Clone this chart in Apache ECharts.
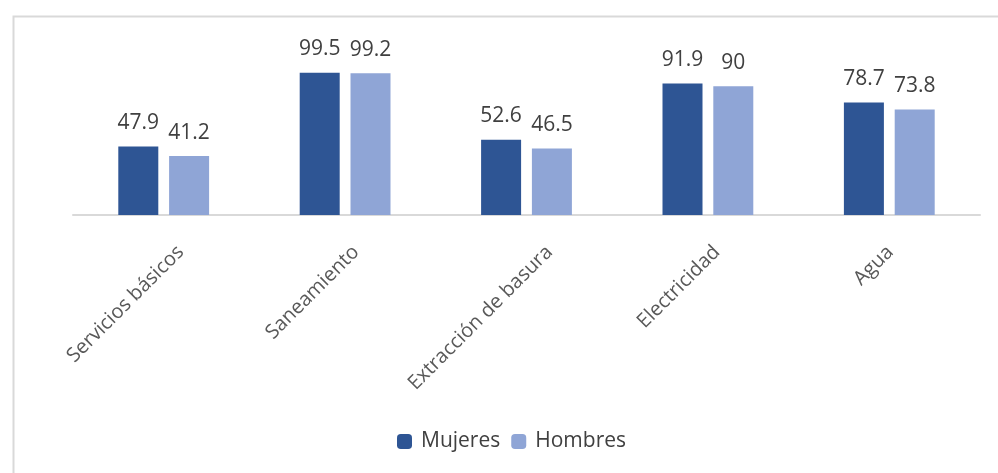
<!DOCTYPE html>
<html>
<head>
<meta charset="utf-8">
<script src="https://cdn.jsdelivr.net/npm/echarts@6/dist/echarts.min.js"></script>
<style>html,body{margin:0;padding:0;background:#fff}#c{width:998px;height:473px}</style>
</head>
<body>
<div id="c"></div>
<script>
const categories = ['Servicios básicos', 'Saneamiento', 'Extracción de basura', 'Electricidad', 'Agua'];
const mujeres = [47.9, 99.5, 52.6, 91.9, 78.7];
const hombres = [41.2, 99.2, 46.5, 90, 73.8];
const seriesNames = ['Mujeres', 'Hombres'];

// horizontal nudge of each rotated category label (Excel-style placement)
const labelNudge = [0, -6, 6, -8, -16];

function labelStyleFor(dx) {
  const a = dx / Math.SQRT2;
  const s = {padding: [0, -24 - a, 0, 0]};
  if (a > 0.5) { s.verticalAlign = 'top'; s.lineHeight = 2 * a; }
  else if (a < -0.5) { s.verticalAlign = 'bottom'; s.lineHeight = -2 * a; }
  return s;
}

const chart = echarts.init(document.getElementById('c'), null, {renderer: 'canvas'});
const font = '"Open Sans", sans-serif';
const labelStyle = {show: true, position: 'top', distance: 13, fontSize: 21, color: '#404040', fontFamily: font};
chart.setOption({
  animation: false,
  backgroundColor: '#fff',
  textStyle: {fontFamily: font},
  graphic: [{
    type: 'rect', left: 11, top: 14,
    shape: {width: 1000, height: 500},
    style: {fill: 'none', stroke: '#d9d9d9', lineWidth: 2},
    silent: true, z: -1
  }],
  grid: {left: 73, right: 18, top: 72, bottom: 258, containLabel: false},
  legend: {
    bottom: 16, left: 392,
    itemWidth: 15, itemHeight: 15, itemGap: 11,
    textStyle: {fontSize: 21, color: '#404040', fontFamily: font, padding: [0, 0, 0, 4]},
    data: seriesNames
  },
  xAxis: {
    type: 'category',
    data: categories.map((c, i) => ({value: c, textStyle: labelStyleFor(labelNudge[i])})),
    axisLine: {lineStyle: {color: '#d9d9d9', width: 2}},
    axisTick: {show: false},
    axisLabel: {rotate: 45, margin: 51, padding: [0, -24, 0, 0], fontSize: 20, color: '#595959', fontFamily: font, interval: 0}
  },
  yAxis: {type: 'value', min: 0, max: 100, show: false, splitLine: {show: false}},
  series: [
    {name: seriesNames[0], type: 'bar', data: mujeres, barWidth: 40, barGap: '27%',
     itemStyle: {color: '#2E5594'}, label: labelStyle},
    {name: seriesNames[1], type: 'bar', data: hombres, barWidth: 40, barGap: '27%',
     itemStyle: {color: '#8FA5D6'}, label: labelStyle}
  ]
});
</script>
</body>
</html>
